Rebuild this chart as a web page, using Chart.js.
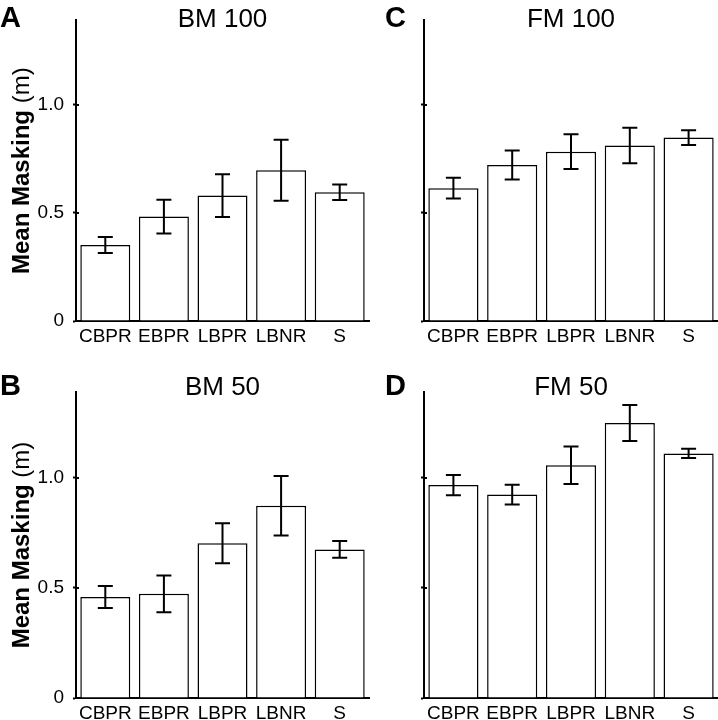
<!DOCTYPE html>
<html>
<head>
<meta charset="utf-8">
<script src="https://cdn.jsdelivr.net/npm/chart.js@4.4.1/dist/chart.umd.min.js"></script>
<style>
  html, body { margin: 0; padding: 0; background: #fff; }
  #wrap { position: relative; width: 718px; height: 720px; overflow: hidden; }
  canvas { position: absolute; }
</style>
</head>
<body>
<div id="wrap">
  <canvas id="panel-a" width="372" height="360" style="left:0;top:0"></canvas>
  <canvas id="panel-c" width="370" height="360" style="left:348px;top:0"></canvas>
  <canvas id="panel-b" width="372" height="360" style="left:0;top:360px"></canvas>
  <canvas id="panel-d" width="370" height="360" style="left:348px;top:360px"></canvas>
</div>
<script>
// categories and values (mean +/- error)
const categories = ['CBPR', 'EBPR', 'LBPR', 'LBNR', 'S'];
const yTickLabels = { 0: '0', 0.5: '0.5', 1: '1.0' };

const bm100Mean = [0.351, 0.483, 0.580, 0.697, 0.595];
const bm100Err  = [0.037, 0.078, 0.099, 0.141, 0.036];
const fm100Mean = [0.614, 0.721, 0.783, 0.812, 0.848];
const fm100Err  = [0.048, 0.067, 0.080, 0.082, 0.034];
const bm50Mean  = [0.459, 0.473, 0.703, 0.873, 0.675];
const bm50Err   = [0.050, 0.083, 0.091, 0.135, 0.038];
const fm50Mean  = [0.967, 0.924, 1.057, 1.249, 1.111];
const fm50Err   = [0.046, 0.045, 0.085, 0.082, 0.021];

const FONT = '"Liberation Sans", Arial, Helvetica, sans-serif';

// error bars, inner tick stubs, panel letter, title, y title
const extras = {
    id: 'extras',
    afterDatasetsDraw(chart) {
        const ctx = chart.ctx;
        const errs = chart.options.plugins.extras.errors;
        const means = chart.data.datasets[0].data;
        const yScale = chart.scales.y;
        const meta = chart.getDatasetMeta(0);
        ctx.save();
        ctx.strokeStyle = '#000';
        ctx.lineWidth = 2;
        meta.data.forEach((bar, i) => {
            const top = yScale.getPixelForValue(means[i] + errs[i]);
            const bot = yScale.getPixelForValue(means[i] - errs[i]);
            ctx.beginPath();
            ctx.moveTo(bar.x, top);
            ctx.lineTo(bar.x, bot);
            ctx.moveTo(bar.x - 7.5, top);
            ctx.lineTo(bar.x + 7.5, top);
            ctx.moveTo(bar.x - 7.5, bot);
            ctx.lineTo(bar.x + 7.5, bot);
            ctx.stroke();
        });
        ctx.restore();
    },
    afterDraw(chart) {
        const ctx = chart.ctx;
        const opts = chart.options.plugins.extras;
        const area = chart.chartArea;
        const yScale = chart.scales.y;
        ctx.save();
        // tick marks poke a little into the plot too
        ctx.strokeStyle = '#000';
        ctx.lineWidth = 2;
        yScale.ticks.forEach(t => {
            if (t.value === 0) return;
            const y = Math.round(yScale.getPixelForValue(t.value));
            ctx.beginPath();
            ctx.moveTo(area.left, y);
            ctx.lineTo(area.left + 3, y);
            ctx.stroke();
        });

        ctx.fillStyle = '#000';
        ctx.textBaseline = 'alphabetic';
        // panel letter
        ctx.font = 'bold 29px ' + FONT;
        ctx.textAlign = 'left';
        ctx.fillText(opts.letter, opts.letterX, opts.baseline);
        // panel title
        ctx.font = '26px ' + FONT;
        ctx.textAlign = 'center';
        ctx.fillText(opts.title, (area.left + area.right) / 2, opts.baseline);

        // y axis title, "Mean Masking" bold, "(m)" regular
        if (opts.yTitle) {
            const boldPart = 'Mean Masking ';
            const normPart = '(m)';
            ctx.font = 'bold 24px ' + FONT;
            const w1 = ctx.measureText(boldPart).width;
            ctx.font = '24px ' + FONT;
            const w2 = ctx.measureText(normPart).width;
            const cy = (area.top + area.bottom) / 2;
            ctx.translate(29, cy);
            ctx.rotate(-Math.PI / 2);
            ctx.textAlign = 'left';
            ctx.font = 'bold 24px ' + FONT;
            ctx.fillText(boldPart, -(w1 + w2) / 2, 0);
            ctx.font = '24px ' + FONT;
            ctx.fillText(normPart, -(w1 + w2) / 2 + w1, 0);
        }
        ctx.restore();
    }
};

function makePanel(id, means, errs, o) {
    return new Chart(document.getElementById(id), {
        type: 'bar',
        data: {
            labels: categories,
            datasets: [{
                data: means,
                backgroundColor: '#fff',
                borderColor: '#000',
                borderWidth: 1.5,
                barPercentage: 0.853,
                categoryPercentage: 1
            }]
        },
        options: {
            responsive: false,
            animation: false,
            layout: { padding: { top: o.top, right: o.right, left: 0, bottom: 0 } },
            scales: {
                x: {
                    afterFit: s => { s.height = o.xHeight; },
                    grid: { display: false, drawTicks: false },
                    border: { display: true, color: '#000', width: 2 },
                    ticks: {
                        color: '#000',
                        padding: 4,
                        maxRotation: 0,
                        font: { family: FONT, size: 19 }
                    }
                },
                y: {
                    min: 0,
                    max: 1.39,
                    afterFit: s => { s.width = 76; },
                    grid: {
                        drawOnChartArea: false,
                        drawTicks: true,
                        tickLength: 3,
                        tickWidth: 2,
                        tickColor: '#000'
                    },
                    border: { display: true, color: '#000', width: 2 },
                    ticks: {
                        stepSize: 0.5,
                        includeBounds: false,
                        padding: 9,
                        color: o.showLabels ? '#000' : 'rgba(0,0,0,0)',
                        font: { family: FONT, size: 19 },
                        callback: v => yTickLabels[v] !== undefined ? yTickLabels[v] : ''
                    }
                }
            },
            plugins: {
                legend: { display: false },
                tooltip: { enabled: false },
                extras: {
                    errors: errs,
                    letter: o.letter,
                    letterX: o.letterX,
                    title: o.title,
                    baseline: o.baseline,
                    yTitle: o.showLabels
                }
            }
        },
        plugins: [extras]
    });
}

makePanel('panel-a', bm100Mean, bm100Err,
    { top: 16, right: 3, xHeight: 39, letter: 'A', letterX: 0, title: 'BM 100', baseline: 27, showLabels: true });
makePanel('panel-c', fm100Mean, fm100Err,
    { top: 16, right: 0, xHeight: 39, letter: 'C', letterX: 37, title: 'FM 100', baseline: 27, showLabels: false });
makePanel('panel-b', bm50Mean, bm50Err,
    { top: 32, right: 3, xHeight: 22, letter: 'B', letterX: 0, title: 'BM 50', baseline: 35, showLabels: true });
makePanel('panel-d', fm50Mean, fm50Err,
    { top: 32, right: 0, xHeight: 22, letter: 'D', letterX: 37, title: 'FM 50', baseline: 35, showLabels: false });
</script>
</body>
</html>
